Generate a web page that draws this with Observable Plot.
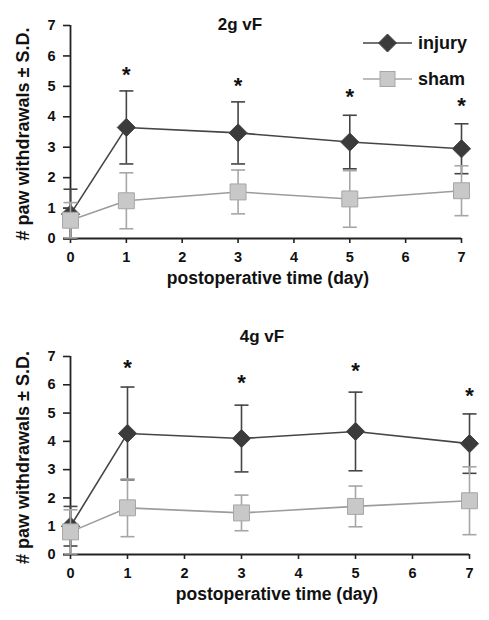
<!DOCTYPE html>
<html>
<head>
<meta charset="utf-8">
<script src="https://cdn.jsdelivr.net/npm/d3@7"></script>
<script src="https://cdn.jsdelivr.net/npm/@observablehq/plot@0.6"></script>
<style>
  html, body { margin: 0; padding: 0; background: #fff; }
  #wrap { position: relative; width: 489px; height: 620px; font-family: "Liberation Sans", Arial, sans-serif; color: #111; }
  #wrap svg { display: block; }
  .ttl { position: absolute; font-weight: bold; font-size: 17px; transform: translate(-50%, -50%); white-space: nowrap; }
  .leg { position: absolute; display: flex; align-items: center; font-weight: bold; font-size: 18px; white-space: nowrap; }
</style>
</head>
<body>
<div id="wrap"></div>
<script>
// ---- data ----
const days = [0, 1, 3, 5, 7];
const starDays = [1, 3, 5, 7];
const xTicks = [0, 1, 2, 3, 4, 5, 6, 7];
const yTicks = [0, 1, 2, 3, 4, 5, 6, 7];
const seriesNames = ["injury", "sham"];
const panelTitles = ["2g vF", "4g vF"];
const yLabel = "# paw withdrawals \u00b1 S.D.";
const xLabel = "postoperative time (day)";

// 2g vF
const inj2Mean = [0.80, 3.65, 3.47, 3.17, 2.95];
const inj2SD   = [0.82, 1.20, 1.02, 0.88, 0.82];
const sham2Mean = [0.60, 1.24, 1.53, 1.30, 1.57];
const sham2SD   = [0.58, 0.92, 0.72, 0.93, 0.82];
const star2Y = [5.45, 5.10, 4.72, 4.43];

// 4g vF
const inj4Mean = [1.00, 4.28, 4.10, 4.35, 3.92];
const inj4SD   = [0.70, 1.64, 1.18, 1.39, 1.05];
const sham4Mean = [0.80, 1.65, 1.47, 1.70, 1.90];
const sham4SD   = [0.78, 1.02, 0.63, 0.72, 1.20];
const star4Y = [6.67, 6.15, 6.59, 5.68];

// ---- styles ----
const injStroke = "#454545", injFill = "#3b3b3b";
const shamStroke = "#a6a6a6", shamLine = "#9c9c9c", shamFill = "#c8c8c8";
const axisColor = "#222";

const capSymbol = {
  draw(ctx, size) {
    const w = Math.sqrt(size / Math.PI);
    ctx.moveTo(-w, 0);
    ctx.lineTo(w, 0);
  }
};

function rows(mean, sd) {
  return days.map((d, i) => ({day: d, mean: mean[i], lo: mean[i] - sd[i], hi: mean[i] + sd[i]}));
}

function seriesMarks(data, stroke, lineStroke, fill, symbol, r) {
  return [
    Plot.ruleX(data, {x: "day", y1: "lo", y2: "hi", stroke, strokeWidth: 1.6}),
    Plot.dot(data, {x: "day", y: "hi", symbol: capSymbol, r: 7, stroke, strokeWidth: 1.6, fill: "none"}),
    Plot.dot(data, {x: "day", y: "lo", symbol: capSymbol, r: 7, stroke, strokeWidth: 1.6, fill: "none"}),
    Plot.line(data, {x: "day", y: "mean", stroke: lineStroke, strokeWidth: 1.6}),
    Plot.dot(data, {x: "day", y: "mean", symbol, r, fill, stroke, strokeWidth: 1})
  ];
}

function panel({inj, sham, starY, marginTop, marginBottom, marginRight, xLabelDx}) {
  const injData = rows(inj[0], inj[1]);
  const shamData = rows(sham[0], sham[1]);
  const stars = starDays.map((d, i) => ({day: d, y: starY[i]}));
  return Plot.plot({
    width: 489,
    height: 310,
    marginLeft: 70,
    marginRight,
    marginTop,
    marginBottom,
    style: {fontFamily: "Liberation Sans, Arial, sans-serif", fontWeight: "bold", fontSize: "14.5px", color: "#111", background: "white", overflow: "visible"},
    x: {domain: [0, 7]},
    y: {domain: [0, 7]},
    marks: [
      Plot.axisX({ticks: xTicks, tickSize: 5, tickPadding: 8, tickFormat: d => String(d), label: null, stroke: axisColor, strokeWidth: 1.6}),
      Plot.axisY({ticks: yTicks, tickSize: 7, tickPadding: 8, tickFormat: d => String(d), label: null, stroke: axisColor, strokeWidth: 1.6}),
      Plot.ruleY([0], {stroke: axisColor, strokeWidth: 1.8, insetLeft: -7}),
      Plot.ruleX([0], {stroke: axisColor, strokeWidth: 1.8}),
      ...seriesMarks(injData, injStroke, injStroke, injFill, "diamond2", 8.2),
      ...seriesMarks(shamData, shamStroke, shamLine, shamFill, "square", 9),
      Plot.text(stars, {x: "day", y: "y", text: () => "*", fontSize: 22, fontWeight: "bold", fill: "#111", dy: 2.5}),
      Plot.text([yLabel], {frameAnchor: "left", textAnchor: "middle", rotate: -90, dx: -47, dy: 2, fontSize: 18, fontWeight: "bold", fill: "#111"}),
      Plot.text([xLabel], {frameAnchor: "bottom", dy: 45, dx: xLabelDx, fontSize: 17.5, fontWeight: "bold", fill: "#111"})
    ]
  });
}

const wrap = document.getElementById("wrap");
wrap.appendChild(panel({inj: [inj2Mean, inj2SD], sham: [sham2Mean, sham2SD], starY: star2Y,
  marginTop: 25, marginBottom: 72, marginRight: 28, xLabelDx: 2}));
wrap.appendChild(panel({inj: [inj4Mean, inj4SD], sham: [sham4Mean, sham4SD], starY: star4Y,
  marginTop: 46, marginBottom: 66, marginRight: 20, xLabelDx: 7}));

// titles
const titlePos = [[240, 25], [262, 337]];
panelTitles.forEach((t, i) => {
  const el = document.createElement("div");
  el.className = "ttl";
  el.textContent = t;
  el.style.left = titlePos[i][0] + "px";
  el.style.top = titlePos[i][1] + "px";
  wrap.appendChild(el);
});

// legend (HTML, top panel)
const legendGlyphs = [
  {stroke: injStroke, fill: injFill, shape: "diamond"},
  {stroke: shamStroke, fill: shamFill, shape: "square"}
];
const legendTops = [43, 79];
seriesNames.forEach((name, i) => {
  const g = legendGlyphs[i];
  const row = document.createElement("div");
  row.className = "leg";
  row.style.left = "363px";
  row.style.top = (legendTops[i] - 12) + "px";
  const shape = g.shape === "diamond"
    ? `<polygon points="24.5,3 33.5,12 24.5,21 15.5,12" fill="${g.fill}" stroke="${g.stroke}"/>`
    : `<rect x="17" y="4.5" width="15" height="15" fill="${g.fill}" stroke="${g.stroke}"/>`;
  row.innerHTML = `<svg width="50" height="24" style="display:block"><line x1="0" x2="49" y1="12" y2="12" stroke="${g.stroke}" stroke-width="1.6"/>${shape}</svg><span style="margin-left:5px">${name}</span>`;
  wrap.appendChild(row);
});
</script>
</body>
</html>
